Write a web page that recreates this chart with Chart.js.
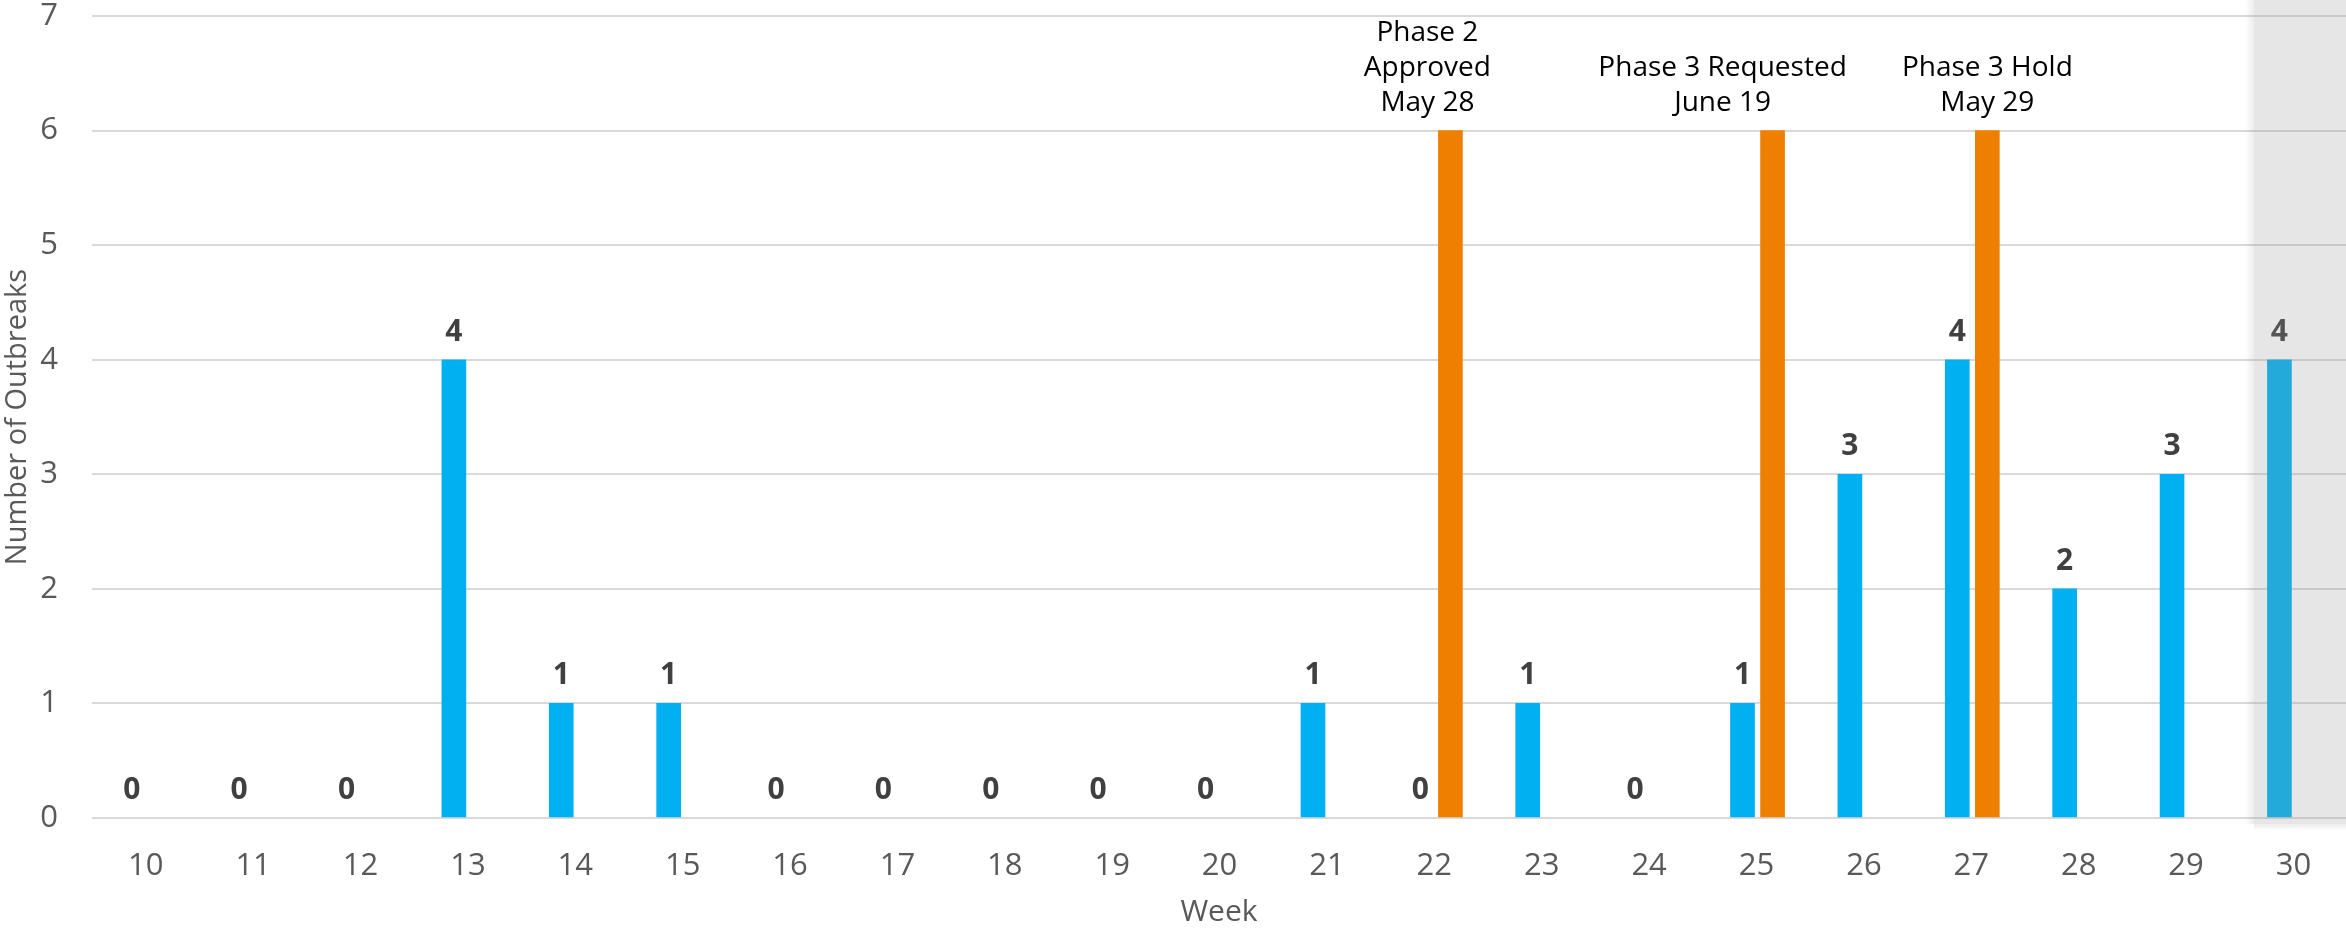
<!DOCTYPE html>
<html>
<head>
<meta charset="utf-8">
<script src="https://cdn.jsdelivr.net/npm/chart.js@4"></script>
<style>
  html, body { margin: 0; padding: 0; background: #ffffff; }
  #wrap { width: 2346px; height: 930px; position: relative; }
</style>
</head>
<body>
<div id="wrap"><canvas id="chart" width="2346" height="930"></canvas></div>
<script>
// Weekly outbreak counts
const weeks = [10, 11, 12, 13, 14, 15, 16, 17, 18, 19, 20, 21, 22, 23, 24, 25, 26, 27, 28, 29, 30];
const outbreaks = [0, 0, 0, 4, 1, 1, 0, 0, 0, 0, 0, 1, 0, 1, 0, 1, 3, 4, 2, 3, 4];

// Reopening milestones, drawn as orange marker bars beside their week
const milestoneWeeks = [22, 25, 27];
const milestoneValues = [6, 6, 6];
const milestoneLabels = [
  ['Phase 2', 'Approved', 'May 28'],
  ['Phase 3 Requested', 'June 19'],
  ['Phase 3 Hold', 'May 29']
];

const yTicks = [0, 1, 2, 3, 4, 5, 6, 7];

// styling / placement
const BLUE = '#00B0F0';
const ORANGE = '#EE7F00';
const MILESTONE_SHIFT = 0.28;           // marker bar sits just right of the week's bar
const MILESTONE_TEXT_DX = [-23, -50, 0]; // horizontal nudge of each caption (px)
const PARTIAL_WEEK = 30;                 // current, incomplete week gets shaded
const FONT = '"Open Sans", "Noto Sans", sans-serif';

const blueData = weeks.map((w, i) => ({ x: w, y: outbreaks[i] }));
const orangeData = milestoneWeeks.map((w, i) => ({ x: w + MILESTONE_SHIFT, y: milestoneValues[i] }));

const overlayPlugin = {
  id: 'labelsAndShade',
  afterDatasetsDraw(chart) {
    const ctx = chart.ctx;
    const xs = chart.scales.x;
    const area = chart.chartArea;

    // value labels over the weekly bars
    const meta = chart.getDatasetMeta(0);
    ctx.save();
    ctx.font = 'bold 30px ' + FONT;
    ctx.fillStyle = '#404040';
    ctx.textAlign = 'center';
    ctx.textBaseline = 'alphabetic';
    meta.data.forEach((el, i) => {
      ctx.fillText(String(outbreaks[i]), el.x, el.y - 19);
    });
    ctx.restore();

    // milestone captions
    const om = chart.getDatasetMeta(1);
    ctx.save();
    ctx.font = '28px ' + FONT;
    ctx.fillStyle = '#000000';
    ctx.textAlign = 'center';
    ctx.textBaseline = 'alphabetic';
    om.data.forEach((el, i) => {
      const lines = milestoneLabels[i];
      const lh = 35;
      const lastBase = el.y - 20;
      lines.forEach((t, j) => {
        ctx.fillText(t, el.x + MILESTONE_TEXT_DX[i], lastBase - (lines.length - 1 - j) * lh);
      });
    });
    ctx.restore();

    // shade the partial week, with a soft edge on the left and bottom
    const left = Math.round(xs.getPixelForValue(PARTIAL_WEEK - 0.24));
    const bottom = Math.round(area.bottom + 6);
    const right = chart.width;
    ctx.save();
    let g = ctx.createLinearGradient(left - 9, 0, left, 0);
    g.addColorStop(0, 'rgba(0,0,0,0)');
    g.addColorStop(1, 'rgba(0,0,0,0.07)');
    ctx.fillStyle = g;
    ctx.fillRect(left - 9, 0, 9, bottom);
    g = ctx.createLinearGradient(0, bottom, 0, bottom + 7);
    g.addColorStop(0, 'rgba(0,0,0,0.07)');
    g.addColorStop(1, 'rgba(0,0,0,0)');
    ctx.fillStyle = g;
    ctx.fillRect(left, bottom, right - left, 7);
    ctx.fillStyle = 'rgba(151,151,151,0.24)';
    ctx.fillRect(left, 0, right - left, bottom);
    ctx.restore();
  }
};

new Chart(document.getElementById('chart'), {
  type: 'bar',
  data: {
    datasets: [
      {
        data: blueData,
        backgroundColor: c => (c.raw && c.raw.y === 0 ? 'rgba(0,0,0,0)' : BLUE),
        barThickness: 24,
        grouped: false
      },
      { data: orangeData, backgroundColor: ORANGE, barThickness: 24, grouped: false }
    ]
  },
  options: {
    responsive: false,
    animation: false,
    events: [],
    layout: { padding: { top: 16, right: 0, left: 0, bottom: 0 } },
    plugins: { legend: { display: false }, tooltip: { enabled: false } },
    scales: {
      x: {
        type: 'linear',
        offset: false,
        min: 9.63,
        max: 30.62,
        afterBuildTicks(scale) { scale.ticks = weeks.map(v => ({ value: v })); },
        afterFit(scale) { scale.height = 112; scale.paddingLeft = 0; scale.paddingRight = 0; },
        grid: { display: false, drawTicks: false },
        border: { display: false },
        ticks: {
          padding: 30,
          labelOffset: 14,
          color: '#595959',
          font: { family: FONT, size: 31 },
          maxRotation: 0,
          autoSkip: false,
          callback: v => String(v)
        },
        title: {
          display: true,
          text: 'Week',
          color: '#595959',
          font: { family: FONT, size: 30 },
          padding: { top: 0, bottom: 0 }
        }
      },
      y: {
        min: 0,
        max: 7,
        afterBuildTicks(scale) { scale.ticks = yTicks.map(v => ({ value: v })); },
        afterFit(scale) { scale.width = 92; scale.paddingTop = 0; scale.paddingBottom = 0; },
        grid: { color: '#D9D9D9', lineWidth: 2, drawTicks: false },
        border: { display: false },
        ticks: {
          padding: 34,
          color: '#595959',
          font: { family: FONT, size: 31 }
        },
        title: {
          display: true,
          text: 'Number of Outbreaks',
          color: '#595959',
          font: { family: FONT, size: 29 },
          padding: { top: 0, bottom: 0 }
        }
      }
    }
  },
  plugins: [overlayPlugin]
});
</script>
</body>
</html>
